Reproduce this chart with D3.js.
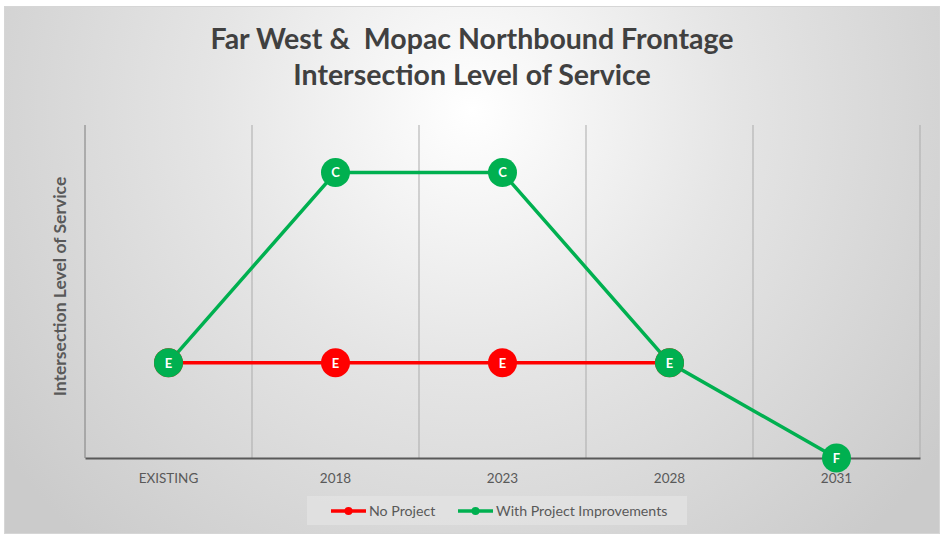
<!DOCTYPE html>
<html>
<head>
<meta charset="utf-8">
<script src="https://cdn.jsdelivr.net/npm/d3@7"></script>
<style>
  body { margin: 0; background: #ffffff; }
  svg { display: block; }
  text { font-family: Lato, "Open Sans", sans-serif; }
</style>
</head>
<body>
<div id="chart"></div>
<script>
// data
var years = ["EXISTING", "2018", "2023", "2028", "2031"];
var levels = ["F", "E", "D", "C"];   // bottom -> top
var noProject = ["E", "E", "E", "E", null];
var withProject = ["E", "C", "C", "E", "F"];

var seriesList = [
  { name: "No Project", values: noProject, color: "#ff0000" },
  { name: "With Project Improvements", values: withProject, color: "#00b050" }
];

var width = 944;
var height = 536;

var svg = d3.select("#chart").append("svg")
  .attr("width", width)
  .attr("height", height);

var defs = svg.append("defs");
var grad = defs.append("radialGradient")
  .attr("id", "bg")
  .attr("gradientUnits", "userSpaceOnUse")
  .attr("cx", 472).attr("cy", 110)
  .attr("r", 580);
grad.append("stop").attr("offset", "0%").attr("stop-color", "#ffffff");
grad.append("stop").attr("offset", "45%").attr("stop-color", "#e5e5e5");
grad.append("stop").attr("offset", "100%").attr("stop-color", "#cbcbcb");

// chart area background
svg.append("rect")
  .attr("x", 4.5)
  .attr("y", 6.5)
  .attr("width", 935)
  .attr("height", 527)
  .style("fill", "url(#bg)")
  .style("stroke", "#d6d6d6")
  .style("stroke-width", 1);

var plot = { left: 85, right: 920, top: 125, bottom: 458 };

var x = d3.scaleBand()
  .domain(years)
  .range([plot.left, plot.right])
  .padding(0);

var y = d3.scaleLinear()
  .domain([0, 3.5])
  .range([plot.bottom, plot.top]);

function lvl(l) { return levels.indexOf(l); }
function cx(i) { return x(years[i]) + x.bandwidth() / 2; }

// vertical gridlines at category boundaries
var bounds = years.map(function(d) { return x(d); }).concat([plot.right]);
svg.selectAll("line.grid")
  .data(bounds.slice(1))
  .enter()
  .append("line")
  .attr("class", "grid")
  .attr("x1", function(d) { return d; })
  .attr("x2", function(d) { return d; })
  .attr("y1", plot.top)
  .attr("y2", plot.bottom)
  .style("stroke", "#ababab")
  .style("stroke-width", 1);

// left axis line
svg.append("line")
  .attr("x1", plot.left).attr("x2", plot.left)
  .attr("y1", plot.top).attr("y2", plot.bottom)
  .style("stroke", "#8c8c8c")
  .style("stroke-width", 1.2);

// x axis
var xAxis = svg.append("g")
  .attr("transform", "translate(0," + plot.bottom + ")")
  .call(d3.axisBottom(x).tickSize(0).tickPadding(15));
xAxis.select(".domain")
  .style("stroke", "#595959")
  .style("stroke-width", 2);
xAxis.selectAll("text")
  .attr("font-family", "Lato, 'Open Sans', sans-serif")
  .attr("font-size", "13.5px")
  .attr("fill", "#595959");

// lines
var line = d3.line()
  .defined(function(d) { return d != null; })
  .x(function(d, i) { return cx(i); })
  .y(function(d) { return y(lvl(d)); });

seriesList.forEach(function(s) {
  svg.append("path")
    .datum(s.values)
    .attr("d", line)
    .style("fill", "none")
    .style("stroke", s.color)
    .style("stroke-width", 3.5);
});

// markers
seriesList.forEach(function(s) {
  var pts = s.values.map(function(v, i) { return { v: v, i: i }; })
    .filter(function(d) { return d.v != null; });
  var g = svg.selectAll(null)
    .data(pts)
    .enter()
    .append("g")
    .attr("transform", function(d) { return "translate(" + cx(d.i) + "," + y(lvl(d.v)) + ")"; });
  g.append("circle")
    .attr("r", 14.5)
    .style("fill", s.color);
  g.append("text")
    .attr("text-anchor", "middle")
    .attr("dy", "0.36em")
    .attr("font-size", "13px")
    .attr("font-weight", "bold")
    .attr("fill", "#ffffff")
    .text(function(d) { return d.v; });
});

// title
svg.append("text")
  .attr("x", 472)
  .attr("y", 49)
  .attr("text-anchor", "middle")
  .attr("font-size", "28.5px")
  .attr("font-weight", "bold")
  .attr("fill", "#404040")
  .style("white-space", "pre")
  .text("Far West &  Mopac Northbound Frontage");
svg.append("text")
  .attr("x", 472)
  .attr("y", 85)
  .attr("text-anchor", "middle")
  .attr("font-size", "28.5px")
  .attr("font-weight", "bold")
  .attr("fill", "#404040")
  .text("Intersection Level of Service");

// y axis label
svg.append("text")
  .attr("transform", "translate(66," + ((plot.top + plot.bottom) / 2 - 5) + ") rotate(-90)")
  .attr("text-anchor", "middle")
  .attr("font-size", "17.5px")
  .attr("font-weight", "bold")
  .attr("fill", "#595959")
  .text("Intersection Level of Service");

// legend
var legend = svg.append("g");
legend.append("rect")
  .attr("x", 307)
  .attr("y", 496)
  .attr("width", 380)
  .attr("height", 29)
  .style("fill", "#e2e2e2")
  .style("opacity", 0.8);

var legendX = [331, 458];
var items = legend.selectAll("g.item")
  .data(seriesList)
  .enter()
  .append("g")
  .attr("class", "item")
  .attr("transform", function(d, i) { return "translate(" + legendX[i] + ",511)"; });
items.append("line")
  .attr("x1", 0).attr("x2", 35)
  .style("stroke", function(d) { return d.color; })
  .style("stroke-width", 3.5);
items.append("circle")
  .attr("cx", 17.5)
  .attr("r", 4)
  .style("fill", function(d) { return d.color; });
items.append("text")
  .attr("x", 38)
  .attr("dy", "0.35em")
  .attr("font-size", "14.2px")
  .attr("fill", "#595959")
  .text(function(d) { return d.name; });
</script>
</body>
</html>
